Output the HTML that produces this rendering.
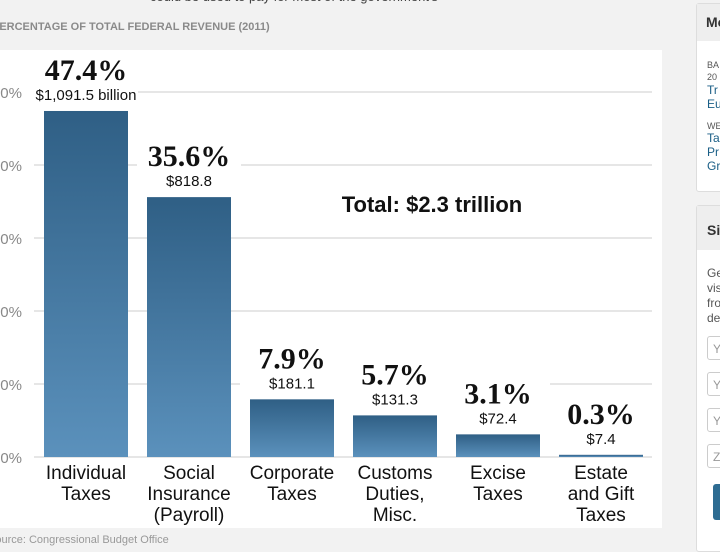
<!DOCTYPE html>
<html><head><meta charset="utf-8"><style>
html,body{margin:0;padding:0;width:720px;height:540px;overflow:hidden;background:#f2f2f2;font-family:"Liberation Sans",sans-serif;}
.side{position:absolute;left:696px;width:40px;background:#fff;border:1px solid #ddd;border-radius:3px;}
</style></head><body>
<div style="position:absolute;left:150px;top:-11px;font-size:13px;color:#444;">could be used to pay for most of the government's</div>
<div style="position:absolute;left:-8px;top:21px;font-size:11px;font-weight:bold;color:#8a8a8a;">PERCENTAGE OF TOTAL FEDERAL REVENUE (2011)</div>
<div style="position:absolute;left:0;top:50px;width:662px;height:478px;background:#fff;"></div>
<div style="position:absolute;left:-12px;top:534px;font-size:11px;color:#999;">Source: Congressional Budget Office</div>
<div class="side" style="top:3px;height:187px;">
 <div style="background:#eee;height:37px;font-weight:bold;font-size:14px;padding:10px 0 0 9px;box-sizing:border-box;color:#333">Mo</div>
 <div style="font-size:9px;color:#555;padding:18px 0 0 10px;line-height:12px">BA<br>20</div>
 <div style="font-size:12px;color:#1a5e86;padding-left:10px;line-height:14px">Tr<br>Eu</div>
 <div style="font-size:9px;color:#555;padding:10px 0 0 10px">WE</div>
 <div style="font-size:12px;color:#1a5e86;padding-left:10px;line-height:14px">Ta<br>Pr<br>Gr</div>
</div>
<div class="side" style="top:205px;height:345px;">
 <div style="background:#eee;height:44px;font-weight:bold;font-size:14px;padding:16px 0 0 10px;box-sizing:border-box;color:#333">Si</div>
 <div style="font-size:12px;color:#555;padding:16px 0 0 10px;line-height:15px">Ge<br>vis<br>fro<br>de</div>
 <div style="margin:10px 0 0 10px;height:24px;border:1px solid #ccc;border-radius:3px;font-size:12px;color:#999;padding:5px;box-sizing:border-box">Y</div>
 <div style="margin:12px 0 0 10px;height:24px;border:1px solid #ccc;border-radius:3px;font-size:12px;color:#999;padding:5px;box-sizing:border-box">Y</div>
 <div style="margin:12px 0 0 10px;height:24px;border:1px solid #ccc;border-radius:3px;font-size:12px;color:#999;padding:5px;box-sizing:border-box">Y</div>
 <div style="margin:12px 0 0 10px;height:24px;border:1px solid #ccc;border-radius:3px;font-size:12px;color:#999;padding:5px;box-sizing:border-box">Z</div>
 <div style="margin:16px 0 0 16px;height:36px;background:#2e6c92;border-radius:3px"></div>
</div>
<svg id="chart" width="720" height="540" style="position:absolute;left:0;top:0">
<defs><linearGradient id="g" x1="0" y1="0" x2="0" y2="1"><stop offset="0" stop-color="#2f5f85"/><stop offset="1" stop-color="#5b91bc"/></linearGradient></defs>
</svg>
<script>
const categories=[["Individual","Taxes"],["Social","Insurance","(Payroll)"],["Corporate","Taxes"],["Customs","Duties,","Misc."],["Excise","Taxes"],["Estate","and Gift","Taxes"]];
const percents=[47.4,35.6,7.9,5.7,3.1,0.3];
const amountLabels=["$1,091.5 billion","$818.8","$181.1","$131.3","$72.4","$7.4"];
const ticks=[0,10,20,30,40,50];
const svg=document.getElementById('chart');
const NS='http://www.w3.org/2000/svg';
const y=v=>457-v*7.3;
const x=i=>44+i*103;
const bw=84;
function mk(t,a,p){const e=document.createElementNS(NS,t);for(const k in a)e.setAttribute(k,a[k]);(p||svg).appendChild(e);return e;}
ticks.forEach(t=>{
 const l=mk('line',{x1:34,x2:652,y1:y(t),y2:y(t),stroke:'#ddd','stroke-width':1.5});
 
 
 const tx=mk('text',{x:22,y:y(t)+6,'text-anchor':'end','font-size':15,fill:'#888','font-family':'Liberation Sans, sans-serif'});
 tx.textContent=t+'%';
 
 
});
const tot=mk('text',{x:432,y:212,'text-anchor':'middle','font-size':22,'font-weight':'bold',fill:'#111','font-family':'Liberation Sans, sans-serif'});
tot.textContent='Total: $2.3 trillion';


percents.forEach((v,i)=>{
 const cx=x(i)+bw/2, top=y(v);
 const bg=mk('rect',{x:cx-52,y:top-54,width:104,height:50,fill:'#fff'});
 
 
 const r=mk('rect',{x:x(i),y:top,width:bw,height:Math.max(457-top,2),fill:'url(#g)'});
 
 
 const p=mk('text',{x:cx,y:top-31,'text-anchor':'middle','font-size':30,'font-weight':'bold',fill:'#111','font-family':'Liberation Serif, serif'});
 p.textContent=v.toFixed(1)+'%';
 
 
 const a=mk('text',{x:cx,y:top-11,'text-anchor':'middle','font-size':15,fill:'#111','font-family':'Liberation Sans, sans-serif'});
 a.textContent=amountLabels[i];
 
 
 categories[i].forEach((s,j)=>{
  const c=mk('text',{x:cx,y:479+j*21,'text-anchor':'middle','font-size':19,fill:'#111','font-family':'Liberation Sans, sans-serif'});
  c.textContent=s;
  
  
 });
});
</script>
</body></html>
